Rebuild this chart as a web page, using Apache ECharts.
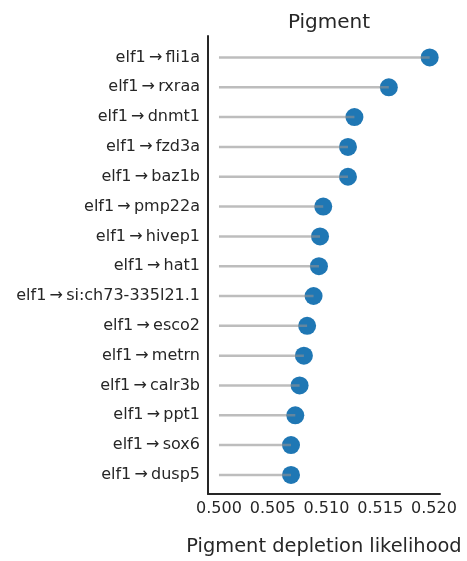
<!DOCTYPE html>
<html>
<head>
<meta charset="utf-8">
<script src="https://cdn.jsdelivr.net/npm/echarts@6/dist/echarts.min.js"></script>
<style>
  html, body { margin: 0; padding: 0; background: #fff; }
  #main { width: 467px; height: 561px; }
</style>
</head>
<body>
<div id="main"></div>
<script>
// 数据
const targets = ['fli1a', 'rxraa', 'dnmt1', 'fzd3a', 'baz1b', 'pmp22a', 'hivep1', 'hat1',
  'si:ch73-335l21.1', 'esco2', 'metrn', 'calr3b', 'ppt1', 'sox6', 'dusp5']
const likelihood = [0.5196, 0.5158, 0.5126, 0.5120, 0.5120, 0.5097, 0.5094, 0.5093,
  0.5088, 0.5082, 0.5079, 0.5075, 0.5071, 0.5067, 0.5067]
const xTicks = [0.500, 0.505, 0.510, 0.515, 0.520]
const baseline = 0.5

const labels = targets.map(t => 'elf1\u2009\u2192\u2009' + t)
const points = likelihood.map((v, i) => [v, i])

const myChart = echarts.init(document.getElementById('main'))

myChart.setOption({
  animation: false,
  title: {
    text: 'Pigment',
    left: 324,
    top: 8,
    textAlign: 'center',
    textStyle: { fontFamily: 'DejaVu Sans', fontSize: 20, fontWeight: 'normal', color: '#262626' }
  },
  grid: { left: 208, right: 27, top: 36, bottom: 64 },
  xAxis: {
    type: 'value',
    min: 0.49898,
    max: 0.52056,
    name: 'Pigment depletion likelihood',
    nameLocation: 'middle',
    nameGap: 43,
    nameTextStyle: { fontFamily: 'DejaVu Sans', fontSize: 19.4, color: '#262626' },
    axisLine: { show: true, onZero: false, lineStyle: { color: '#262626', width: 2 } },
    axisTick: { show: false },
    splitLine: { show: false },
    axisLabel: {
      customValues: xTicks,
      margin: 7,
      formatter: v => v.toFixed(3),
      fontFamily: 'DejaVu Sans',
      fontSize: 16,
      color: '#262626'
    }
  },
  yAxis: {
    type: 'value',
    inverse: true,
    min: -0.72,
    max: 14.64,
    axisLine: { show: true, onZero: false, lineStyle: { color: '#262626', width: 2 } },
    axisTick: { show: false },
    splitLine: { show: false },
    axisLabel: {
      customValues: labels.map((_, i) => i),
      formatter: v => labels[Math.round(v)],
      margin: 8,
      fontFamily: 'DejaVu Sans',
      fontSize: 16,
      color: '#262626'
    }
  },
  series: [
    {
      type: 'scatter',
      data: points,
      symbolSize: 18,
      itemStyle: { color: '#1f77b4', opacity: 1 },
      z: 2
    },
    {
      type: 'custom',
      data: points,
      z: 3,
      renderItem: (params, api) => {
        const start = api.coord([baseline, api.value(1)])
        const end = api.coord([api.value(0), api.value(1)])
        return {
          type: 'line',
          shape: { x1: start[0], y1: start[1], x2: end[0], y2: end[1] },
          style: { stroke: 'rgba(145,145,145,0.6)', lineWidth: 2.5 }
        }
      },
      encode: { x: 0, y: 1 }
    }
  ]
})
</script>
</body>
</html>
